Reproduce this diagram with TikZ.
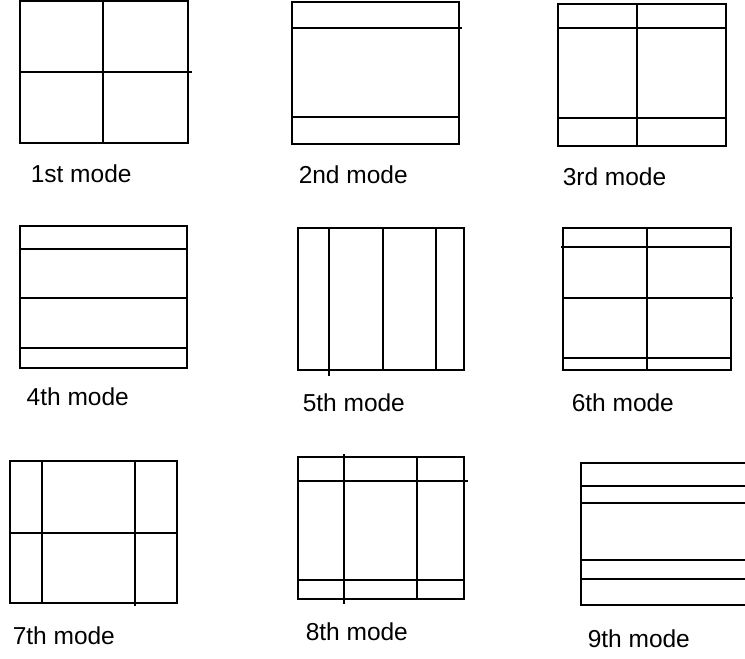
\documentclass[tikz,border=0pt]{standalone}
\usepackage{fontspec}
\setmainfont{Liberation Sans}
\begin{document}
\begin{tikzpicture}[x=1pt, y=-1pt, line width=1.5pt,
  modelabel/.style={anchor=base west, inner sep=0pt, font=\fontsize{24.5}{28}\selectfont}]
\useasboundingbox (0,0) rectangle (745,659);
% 1st mode
\draw (20,1) rectangle (188,143);
\draw (103,1) -- (103,143);
\draw (20,72) -- (192,72);
\node[modelabel] (m1) at (30,182) {1st mode};
% 2nd mode
\draw (292,2) rectangle (459,144);
\draw (292,28) -- (462,28);
\draw (292,117) -- (459,117);
\node[modelabel] (m2) at (298,183) {2nd mode};
% 3rd mode
\draw (558,4) rectangle (726,146);
\draw (637,4) -- (637,146);
\foreach \y in {28,118}
  \draw (558,\y) -- (726,\y);
\node[modelabel] (m3) at (562,185) {3rd mode};
% 4th mode
\draw (20,226) rectangle (187,368);
\foreach \y in {249,298,348}
  \draw (20,\y) -- (187,\y);
\node[modelabel] (m4) at (26,405) {4th mode};
% 5th mode
\draw (298,228) rectangle (464,370);
\draw (329,228) -- (329,376);
\foreach \x in {383,436}
  \draw (\x,228) -- (\x,370);
\node[modelabel] (m5) at (302,411) {5th mode};
% 6th mode
\draw (563,228) rectangle (731,370);
\draw (647,228) -- (647,370);
\draw (561,247) -- (731,247);
\draw (563,298) -- (733,298);
\draw (563,358) -- (731,358);
\node[modelabel] (m6) at (571,411) {6th mode};
% 7th mode
\draw (10,461) rectangle (177,603);
\draw (42,461) -- (42,603);
\draw (135,461) -- (135,606);
\draw (10,533) -- (177,533);
\node[modelabel] (m7) at (12,644) {7th mode};
% 8th mode
\draw (298,457) rectangle (464,599);
\draw (344,454) -- (344,604);
\draw (417,457) -- (417,599);
\draw (298,481) -- (468,481);
\draw (298,580) -- (464,580);
\node[modelabel] (m8) at (305,640) {8th mode};
% 9th mode
\draw (745,463) -- (581,463) -- (581,605) -- (745,605);
\foreach \y in {486,503,560,579}
  \draw (581,\y) -- (745,\y);
\node[modelabel] (m9) at (587,647) {9th mode};
\end{tikzpicture}
\end{document}
